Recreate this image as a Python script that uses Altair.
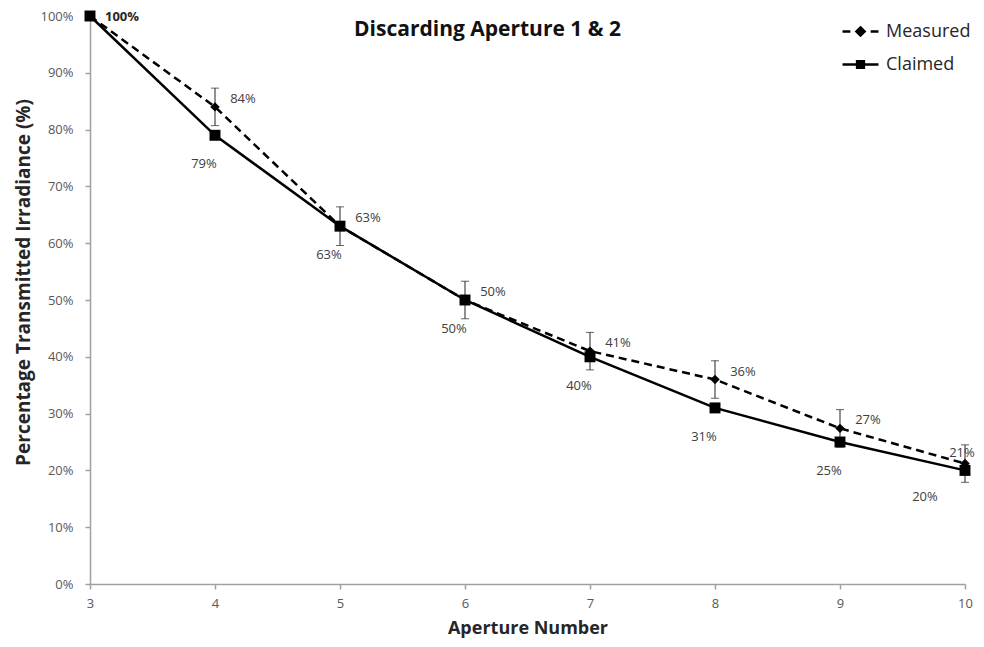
import altair as alt
import pandas as pd

apertures = [3, 4, 5, 6, 7, 8, 9, 10]
measured = [100, 84, 63, 50, 41, 36, 27.4, 21.2]
measured_err = [0, 3.3, 3.4, 3.3, 3.3, 3.3, 3.3, 3.3]
claimed = [100, 79, 63, 50, 40, 31, 25, 20]
measured_labels = ["100%", "84%", "63%", "50%", "41%", "36%", "27%", "21%"]
claimed_labels = ["", "79%", "63%", "50%", "40%", "31%", "25%", "20%"]
series_names = ["Measured", "Claimed"]
y_ticks = [0, 10, 20, 30, 40, 50, 60, 70, 80, 90, 100]
x_ticks = [3, 4, 5, 6, 7, 8, 9, 10]

FONT = "Open Sans"

rows = []
for a, v, e, lab in zip(apertures, measured, measured_err, measured_labels):
    rows.append({"aperture": a, "value": v, "series": "Measured", "label": lab,
                 "lo": v - e, "hi": v + e, "err": e})
for a, v, lab in zip(apertures, claimed, claimed_labels):
    rows.append({"aperture": a, "value": v, "series": "Claimed", "label": lab,
                 "lo": v, "hi": v, "err": 0})
df = pd.DataFrame(rows)

xs = alt.Scale(domain=[3, 10], nice=False, zero=False)
ys = alt.Scale(domain=[0, 100], nice=False)

x_enc = alt.X("aperture:Q", scale=xs, axis=alt.Axis(
    values=x_ticks, title="Aperture Number", format="d"))
y_enc = alt.Y("value:Q", scale=ys, axis=alt.Axis(
    values=y_ticks, title="Percentage Transmitted Irradiance (%)",
    labelExpr="datum.value + '%'", titleY=266, titleFontSize=19))

base = alt.Chart(df)

meas = base.transform_filter(alt.datum.series == "Measured")
clm = base.transform_filter(alt.datum.series == "Claimed")

line_m = meas.mark_line(color="black", strokeWidth=2.5, strokeDash=[8, 5]).encode(x=x_enc, y=y_enc)
line_c = clm.mark_line(color="black", strokeWidth=2.5).encode(x=x_enc, y=y_enc)

errs = meas.transform_filter(alt.datum.err > 0)
err_rule = errs.mark_rule(color="#222222", strokeWidth=1).encode(
    x="aperture:Q", y="lo:Q", y2="hi:Q")
cap_lo = errs.mark_tick(color="#222222", orient="horizontal", size=8, thickness=1).encode(
    x="aperture:Q", y=alt.Y("lo:Q", scale=ys))
cap_hi = errs.mark_tick(color="#222222", orient="horizontal", size=8, thickness=1).encode(
    x="aperture:Q", y=alt.Y("hi:Q", scale=ys))

pts_m = meas.mark_point(shape="diamond", filled=True, color="black", size=90, opacity=1).encode(
    x="aperture:Q", y="value:Q")
pts_c = clm.mark_point(shape="square", filled=True, color="black", size=120, opacity=1).encode(
    x="aperture:Q", y="value:Q")

lab_style = dict(font=FONT, fontSize=13, color="#404040")
lab_m_start = meas.transform_filter(alt.datum.aperture == 3).mark_text(
    dx=32, dy=1, font=FONT, fontSize=13, fontWeight="bold", color="#262626").encode(
    x="aperture:Q", y="value:Q", text="label:N")
lab_m = meas.transform_filter((alt.datum.aperture > 3) & (alt.datum.aperture < 10)).mark_text(
    dx=28, dy=-8, **lab_style).encode(x="aperture:Q", y="value:Q", text="label:N")
lab_m_end = meas.transform_filter(alt.datum.aperture == 10).mark_text(dx=-3, dy=-11, **lab_style).encode(
    x="aperture:Q", y="value:Q", text="label:N")
lab_c = clm.transform_filter((alt.datum.aperture > 3) & (alt.datum.aperture < 10)).mark_text(
    dx=-11, dy=29, **lab_style).encode(x="aperture:Q", y="value:Q", text="label:N")
lab_c_end = clm.transform_filter(alt.datum.aperture == 10).mark_text(dx=-40, dy=27, **lab_style).encode(
    x="aperture:Q", y="value:Q", text="label:N")

# legend-only layer (draws nothing; legend from explicit domain)
meas_sym = ("M-1.6,0H-0.9M0.9,0H1.6"
            "M0,-0.36L0.36,0L0,0.36L-0.36,0Z"
            "M0,-0.17L0.17,0L0,0.17L-0.17,0Z"
            "M-0.2,0H0.2")
clm_sym = ("M-1.6,0H1.6M-0.3,-0.3H0.3V0.3H-0.3Z"
           "M-0.14,-0.14H0.14V0.14H-0.14Z")
legend_layer = base.transform_filter(alt.datum.aperture < 0).mark_point(
    filled=False, color="black", strokeWidth=2.5).encode(
    x="aperture:Q", y="value:Q",
    shape=alt.Shape("series:N", scale=alt.Scale(domain=series_names, range=[meas_sym, clm_sym]),
                    legend=alt.Legend(title=None, orient="none", legendX=758, legendY=3,
                                      symbolSize=506, symbolStrokeWidth=2.5,
                                      symbolStrokeColor="black",
                                      symbolOpacity=1,
                                      labelFont=FONT, labelFontSize=18, labelColor="#262626",
                                      labelOffset=13, rowPadding=11, padding=0)))

chart = alt.layer(line_m, line_c, err_rule, cap_lo, cap_hi, pts_m, pts_c,
                  lab_m_start, lab_m, lab_m_end, lab_c, lab_c_end, legend_layer).properties(
    width=875, height=568,
    title=alt.TitleParams("Discarding Aperture 1 & 2", font=FONT, fontSize=21,
                          fontWeight="bold", color="#111111", anchor="middle",
                          dx=-40, dy=30, offset=0),
    autosize=alt.AutoSizeParams(type="none"),
    padding={"left": 82, "top": 8, "right": 11, "bottom": 63},
).configure_view(stroke=None).configure_axis(
    domainColor="#a0a0a0", domainWidth=1.5, tickColor="#a0a0a0", tickWidth=1.5,
    tickSize=5, grid=False, labelFont=FONT, labelFontSize=13, labelColor="#595959",
    titleFont=FONT, titleFontSize=18, titleFontWeight="bold", titleColor="#262626",
).configure_axisY(labelPadding=12, titlePadding=6).configure_axisX(
    labelPadding=8, titlePadding=9, labelFlush=False)

chart.save("out.html", embed_options={"renderer": "svg", "actions": False})
